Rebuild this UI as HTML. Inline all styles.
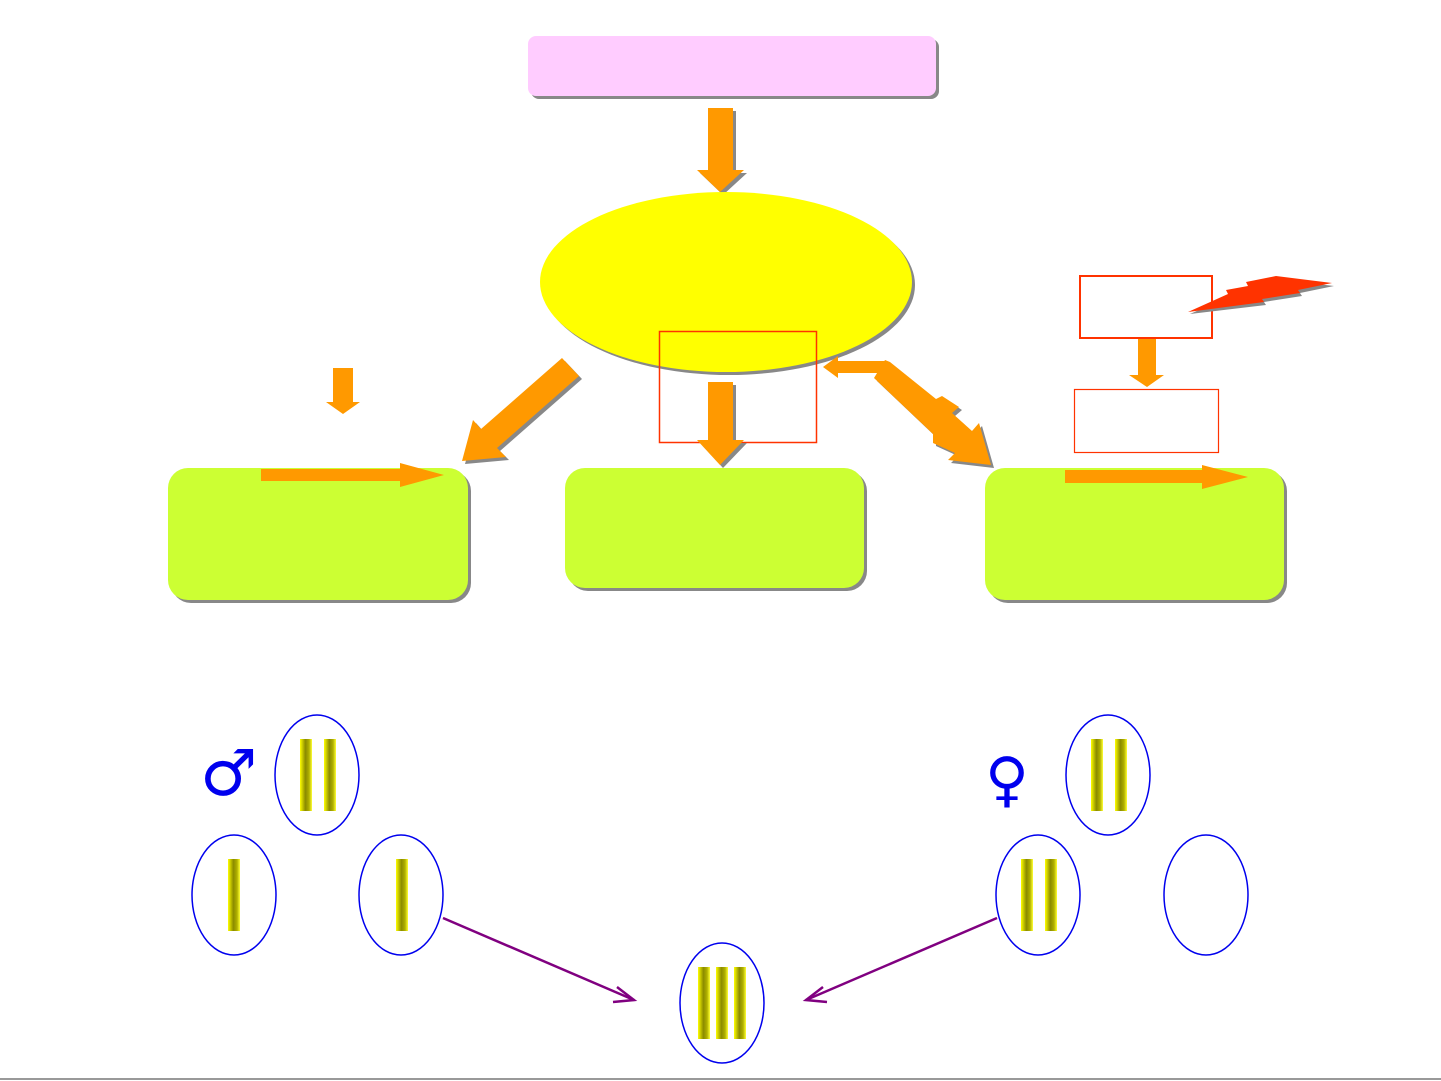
<!DOCTYPE html>
<html><head><meta charset="utf-8"><style>html,body{margin:0;padding:0;background:#fff;width:1441px;height:1081px;overflow:hidden}</style></head>
<body>
<svg width="1441" height="1081" viewBox="0 0 1441 1081" xmlns="http://www.w3.org/2000/svg">
<defs>
<linearGradient id="ch" x1="0" x2="1" y1="0" y2="0">
<stop offset="0" stop-color="#ffff00"/><stop offset="0.45" stop-color="#8a8a00"/><stop offset="0.75" stop-color="#b0b000"/><stop offset="1" stop-color="#ffff33"/>
</linearGradient>
<g id="bar"><rect x="-6" y="-36" width="12" height="72" fill="url(#ch)"/></g>
</defs>
<!-- top box -->
<rect x="531" y="39" width="408" height="60" rx="8" fill="#888"/>
<rect x="528" y="36" width="408" height="60" rx="8" fill="#ffccff"/>
<!-- down arrow 1 -->
<polygon points="711,111 736,111 736,173 747,173 723,195 700,173 711,173" fill="#888"/>
<polygon points="708,108 733,108 733,170 744,170 720,192 697,170 708,170" fill="#ff9900"/>
<!-- ellipse -->
<ellipse cx="729" cy="285" rx="186" ry="90" fill="#888"/>
<ellipse cx="726" cy="282" rx="186" ry="90" fill="#ffff00"/>
<rect x="659.5" y="331.5" width="157" height="111" fill="none" stroke="#ff3300" stroke-width="1.5"/>
<!-- mid arrow -->
<polygon points="711,385 736,385 736,443 747,443 723,468 700,443 711,443" fill="#888"/>
<polygon points="708,382 733,382 733,440 744,440 720,465 697,440 708,440" fill="#ff9900"/>
<!-- left diagonal -->
<polygon points="565,361 582,379 500,451 509,460 465,464 476,423 484,432" fill="#888"/>
<polygon points="562,358 579,376 497,448 506,457 462,461 473,420 481,429" fill="#ff9900"/>
<!-- small down arrow -->
<polygon points="333,368 353,368 353,402 360,402 343,414 326,402 333,402" fill="#ff9900"/>
<!-- right double arrow -->
<polygon points="888,363 893,365 939,402 945,399 962,410 955,416 975,434 982,426 994,468 951,463 958,456 936,446 936,437 877,381" fill="#888"/>
<polygon points="885,360 890,362 936,399 942,396 959,407 952,413 972,431 979,423 991,465 948,460 955,453 933,443 933,434 874,378" fill="#ff9900"/>
<polygon points="823,367 838,356 838,361 885,361 887,373 838,373 838,378" fill="#ff9900"/>
<!-- boxes -->
<rect x="171" y="471" width="300" height="132" rx="20" fill="#888"/>
<rect x="168" y="468" width="300" height="132" rx="20" fill="#ccff33"/>
<rect x="568" y="471" width="299" height="120" rx="20" fill="#888"/>
<rect x="565" y="468" width="299" height="120" rx="20" fill="#ccff33"/>
<rect x="988" y="471" width="299" height="132" rx="20" fill="#888"/>
<rect x="985" y="468" width="299" height="132" rx="20" fill="#ccff33"/>
<polygon points="261,469 400,469 400,463 444,475 400,487 400,481 261,481" fill="#ff9900"/>
<polygon points="1065,470 1202,470 1202,465 1248,477 1202,489 1202,483 1065,483" fill="#ff9900"/>
<!-- right red boxes -->
<rect x="1080" y="276" width="132" height="62" fill="#fff" stroke="#ff3300" stroke-width="2"/>
<polygon points="1138,339 1156,339 1156,375 1164,375 1147,387 1129,375 1138,375" fill="#ff9900"/>
<rect x="1074.5" y="389.5" width="144" height="63" fill="none" stroke="#ff3300" stroke-width="1.2"/>
<polygon points="1190,314 1230,296 1228,292 1250,288 1248,284 1276,279 1334,286 1300,293 1302,296 1264,302 1266,305" fill="#888"/>
<polygon points="1188,312 1228,294 1226,290 1248,286 1246,282 1276,276 1332,283 1298,290 1300,293 1262,299 1264,302" fill="#ff3300"/>
<!-- symbols -->
<text x="200" y="795" font-family="DejaVu Sans, sans-serif" font-size="64" font-weight="bold" fill="#0000ee">♂</text>
<text x="985" y="800" font-family="DejaVu Sans, sans-serif" font-size="60" font-weight="bold" fill="#0000ee">♀</text>
<!-- cells -->
<g fill="none" stroke="#0000ee" stroke-width="1.5">
<ellipse cx="317" cy="775" rx="42" ry="60"/>
<ellipse cx="234" cy="895" rx="42" ry="60"/>
<ellipse cx="401" cy="895" rx="42" ry="60"/>
<ellipse cx="1108" cy="775" rx="42" ry="60"/>
<ellipse cx="1038" cy="895" rx="42" ry="60"/>
<ellipse cx="1206" cy="895" rx="42" ry="60"/>
<ellipse cx="722" cy="1003" rx="42" ry="60"/>
</g>
<use href="#bar" x="306" y="775"/><use href="#bar" x="330" y="775"/>
<use href="#bar" x="234" y="895"/><use href="#bar" x="402" y="895"/>
<use href="#bar" x="1097" y="775"/><use href="#bar" x="1121" y="775"/>
<use href="#bar" x="1027" y="895"/><use href="#bar" x="1051" y="895"/>
<use href="#bar" x="704" y="1003"/><use href="#bar" x="722" y="1003"/><use href="#bar" x="740" y="1003"/>
<!-- purple lines -->
<g stroke="#800080" stroke-width="2.5" fill="none">
<line x1="443" y1="918" x2="634" y2="1000"/>
<polyline points="617,987 634,1000 613,1002"/>
<line x1="997" y1="918" x2="806" y2="1000"/>
<polyline points="823,987 806,1000 827,1002"/>
</g>
<line x1="0" y1="1079" x2="1441" y2="1079" stroke="#999" stroke-width="2"/>
</svg>
</body></html>
